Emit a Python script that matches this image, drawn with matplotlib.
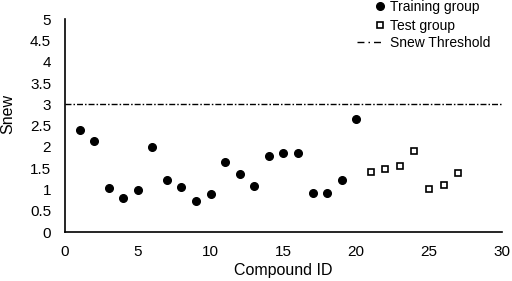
import matplotlib
matplotlib.use('Agg')
import matplotlib.pyplot as plt
from matplotlib.lines import Line2D

plt.rcParams['font.family'] = ['Liberation Sans', 'DejaVu Sans']

# Datos
train_id = list(range(1, 21))
train_snew = [2.39, 2.14, 1.03, 0.80, 0.99, 2.00, 1.22, 1.06, 0.73, 0.89,
              1.64, 1.36, 1.08, 1.78, 1.85, 1.85, 0.92, 0.92, 1.22, 2.65]
test_id = list(range(21, 28))
test_snew = [1.41, 1.48, 1.55, 1.90, 1.01, 1.10, 1.38]
threshold = 3
x_ticks = [0, 5, 10, 15, 20, 25, 30]
y_ticks = [0, 0.5, 1, 1.5, 2, 2.5, 3, 3.5, 4, 4.5, 5]

fig = plt.figure(figsize=(5.12, 2.81), dpi=100)
ax = fig.add_axes([0.127, 0.174, 0.853, 0.758])

h_train, = ax.plot(train_id, train_snew, 'o', color='black', markersize=5.5,
                   label='Training group')
h_test, = ax.plot(test_id, test_snew, 's', markerfacecolor='white', markeredgecolor='black',
                  markeredgewidth=1.2, markersize=4.8, label='Test group')
ax.axhline(threshold, color='black', linewidth=1, dashes=(4.3, 1.45, 1.1, 1.45))

ax.set_xlim(0, 30)
ax.set_ylim(0, 5)
ax.set_xticks(x_ticks)
ax.set_yticks(y_ticks)
ax.set_yticklabels([f'{v:g}' for v in y_ticks])
ax.tick_params(length=0, labelsize=11)
ax.tick_params(axis='x', pad=9)
ax.tick_params(axis='y', pad=10)
ax.spines['top'].set_visible(False)
ax.spines['right'].set_visible(False)
ax.spines['left'].set_linewidth(1.2)
ax.spines['bottom'].set_linewidth(1.2)

ax.set_xlabel('Compound ID', fontsize=11.5, labelpad=3)
ax.set_ylabel('Snew', fontsize=11.5)
ax.yaxis.set_label_coords(-0.115, 0.556)

# Leyenda estilo Excel: marcadores alineados, texto a la izquierda
leg1 = fig.legend([h_train, h_test], ['Training group', 'Test group'],
                  loc='center left', bbox_to_anchor=(0.731, 0.941),
                  bbox_transform=fig.transFigure, frameon=False, fontsize=10,
                  handlelength=0.8, handletextpad=0.32, labelspacing=0.38,
                  borderpad=0, borderaxespad=0)
h_thr = Line2D([], [], color='black', linewidth=1, dashes=(5, 2.9, 1.1, 2.9))
leg2 = fig.legend([h_thr], ['Snew Threshold'],
                  loc='center left', bbox_to_anchor=(0.697, 0.848),
                  bbox_transform=fig.transFigure, frameon=False, fontsize=10,
                  handlelength=1.73, handletextpad=0.65,
                  borderpad=0, borderaxespad=0)

fig.savefig('out.png', dpi=100)
